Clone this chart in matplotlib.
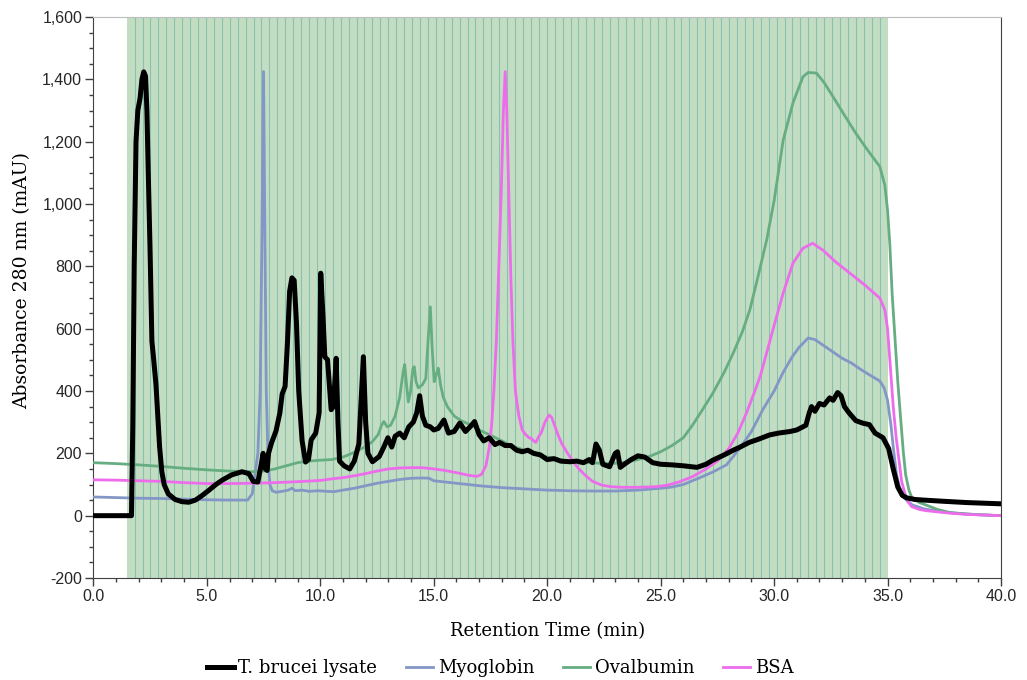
import numpy as np
import matplotlib
matplotlib.use("Agg")
import matplotlib.pyplot as plt
from matplotlib.ticker import MultipleLocator, FuncFormatter

# --- data (time in min, absorbance in mAU) ---
lysate_t = [0.0, 1.68, 1.74, 1.80, 1.88, 1.96, 2.06, 2.14, 2.22, 2.30, 2.36, 2.42, 2.50, 2.58,
            2.66, 2.76, 2.84, 2.92, 3.02, 3.12, 3.30, 3.60, 3.90, 4.20, 4.50, 4.80, 5.10, 5.40,
            5.70, 6.10, 6.55, 6.85, 7.05, 7.25, 7.40, 7.48, 7.58, 7.66, 7.72, 7.85, 8.05, 8.22,
            8.32, 8.45, 8.55, 8.65, 8.75, 8.85, 8.95, 9.05, 9.20, 9.35, 9.48, 9.60, 9.80, 9.95,
            10.02, 10.12, 10.20, 10.32, 10.40, 10.48, 10.58, 10.70, 10.78, 10.85, 11.05, 11.30,
            11.50, 11.70, 11.82, 11.90, 12.00, 12.10, 12.30, 12.60, 12.80, 12.98, 13.15, 13.30,
            13.50, 13.70, 13.90, 14.10, 14.25, 14.38, 14.50, 14.65, 14.85, 15.00, 15.20, 15.45,
            15.65, 15.90, 16.15, 16.40, 16.60, 16.80, 17.00, 17.20, 17.45, 17.70, 17.90, 18.15,
            18.40, 18.65, 18.90, 19.15, 19.40, 19.70, 20.00, 20.30, 20.60, 21.00, 21.30, 21.60,
            21.85, 22.00, 22.15, 22.30, 22.45, 22.75, 23.00, 23.10, 23.22, 23.40, 23.70, 24.00,
            24.30, 24.65, 25.00, 25.50, 26.00, 26.60, 27.00, 27.30, 27.80, 28.20, 28.50, 28.90,
            29.30, 29.80, 30.20, 30.70, 31.00, 31.40, 31.55, 31.65, 31.80, 32.00, 32.20, 32.45,
            32.60, 32.80, 32.95, 33.10, 33.30, 33.60, 33.90, 34.20, 34.45, 34.80, 35.05, 35.25,
            35.45, 35.65, 35.85, 36.20, 36.60, 37.50, 38.50, 40.00]
lysate_v = [0, 0, 300, 800, 1200, 1300, 1340, 1400, 1424, 1410, 1300, 1100, 850, 560,
            500, 420, 320, 220, 140, 100, 70, 52, 45, 43, 50, 65, 82, 100,
            115, 131, 141, 135, 110, 108, 165, 200, 150, 145, 200, 233, 272, 330,
            390, 415, 550, 720, 763, 755, 620, 400, 240, 172, 180, 243, 265, 330,
            778, 640, 510, 500, 420, 340, 350, 505, 300, 175, 160, 150,
            175, 230, 400, 510, 300, 200, 173, 190, 220, 250, 220, 255,
            265, 250, 285, 300, 330, 385, 320, 290, 285, 275, 280, 307,
            265, 270, 297, 270, 285, 302, 260, 240, 250, 228, 235, 225,
            225, 210, 205, 210, 200, 195, 180, 183, 175, 173, 175, 170,
            180, 170, 230, 210, 165, 157, 200, 205, 155, 165, 180, 192,
            188, 170, 165, 163, 160, 155, 165, 178, 195, 210, 220, 235,
            245, 259, 265, 270, 275, 290, 330, 350, 335, 360, 355, 378,
            370, 395, 385, 350, 330, 305, 297, 292, 265, 250, 215, 150,
            92, 65, 57, 52, 50, 46, 42, 38]

myo_t = [0.0, 1.0, 2.0, 3.0, 4.0, 5.0, 6.0, 6.8, 7.0, 7.1, 7.25, 7.35, 7.43, 7.5, 7.56, 7.62,
         7.7, 7.78, 7.88, 8.05, 8.3, 8.6, 8.75, 8.9, 9.2, 9.5, 9.9, 10.3, 10.6, 11.0, 11.5,
         12.0, 12.5, 13.0, 13.5, 14.0, 14.5, 14.8, 15.0, 15.5, 16.0, 17.0, 18.0, 19.0, 20.0,
         21.0, 22.0, 23.0, 24.0, 25.0, 25.5, 26.0, 26.7, 27.3, 27.9, 28.5, 29.0, 29.5, 30.0,
         30.4, 30.8, 31.1, 31.5, 31.8, 32.2, 32.6, 33.0, 33.4, 33.8, 34.2, 34.66, 34.85, 35.0,
         35.15, 35.25, 35.4, 35.55, 35.7, 35.9, 36.1, 36.6, 37.3, 38.0, 39.0, 40.0]
myo_v = [60, 58, 56, 55, 53, 51, 50, 50, 70, 120, 200, 400, 900, 1425, 900, 400,
         180, 100, 80, 75, 78, 82, 88, 80, 82, 78, 80, 78, 77, 82, 88,
         96, 104, 110, 116, 120, 121, 120, 112, 108, 104, 96, 90, 86, 82,
         80, 79, 79, 82, 88, 92, 100, 121, 140, 163, 217, 270, 340, 400,
         460, 510, 540, 570, 565, 545, 525, 505, 490, 470, 452, 432, 410, 370,
         290, 221, 130, 85, 60, 45, 34, 22, 13, 8, 3, 0]

ova_t = [0.0, 1.0, 2.0, 3.0, 4.0, 5.0, 6.0, 7.0, 7.5, 8.0, 8.5, 9.0, 9.5, 10.0, 10.5, 11.0,
         11.5, 12.0, 12.3, 12.55, 12.7, 12.8, 12.95, 13.1, 13.3, 13.5, 13.65, 13.72, 13.8,
         13.88, 13.98, 14.08, 14.14, 14.22, 14.32, 14.5, 14.65, 14.75, 14.85, 14.93, 15.02,
         15.12, 15.2, 15.3, 15.42, 15.6, 15.9, 16.2, 16.6, 17.0, 17.5, 18.0, 18.5, 19.0,
         19.5, 20.0, 20.5, 21.0, 21.5, 22.0, 22.5, 23.0, 23.5, 24.0, 24.5, 25.0, 25.5, 26.0,
         26.4, 26.8, 27.3, 27.8, 28.2, 28.6, 28.93, 29.3, 29.67, 30.0, 30.4, 30.83, 31.27,
         31.5, 31.87, 32.2, 32.6, 33.1, 33.6, 34.1, 34.66, 34.88, 35.0, 35.1, 35.2, 35.3,
         35.45, 35.6, 35.7, 35.8, 35.95, 36.06, 36.4, 36.7, 37.2, 37.75, 38.5, 40.0]
ova_v = [170, 167, 163, 158, 152, 147, 143, 141, 143, 150, 160, 170, 175, 178, 180, 188,
         203, 222, 238, 260, 290, 302, 285, 290, 320, 380, 460, 485, 420,
         365, 400, 470, 478, 430, 410, 420, 440, 560, 670, 540, 430,
         455, 473, 420, 380, 350, 320, 305, 292, 275, 258, 240, 222, 210,
         198, 188, 180, 175, 171, 169, 168, 168, 172, 180, 190, 205, 225, 250,
         290, 335, 393, 460, 522, 590, 660, 770, 884, 1010, 1205, 1324, 1408,
         1422, 1420, 1390, 1344, 1285, 1227, 1175, 1120, 1060, 980, 870, 715, 600,
         430, 290, 200, 130, 80, 60, 42, 34, 20, 10, 5, 0]

bsa_t = [0.0, 1.0, 2.0, 3.0, 4.0, 5.0, 6.0, 7.0, 8.0, 9.0, 10.0, 10.5, 11.0, 11.5, 12.0,
         12.5, 13.0, 13.5, 14.0, 14.5, 15.0, 15.5, 16.0, 16.5, 16.9, 17.1, 17.3, 17.45, 17.55,
         17.65, 17.76, 17.87, 17.98, 18.07, 18.15, 18.22, 18.32, 18.4, 18.49, 18.6, 18.75,
         18.9, 19.05, 19.2, 19.3, 19.4, 19.5, 19.6, 19.75, 19.9, 20.08, 20.2, 20.35, 20.5,
         20.65, 20.9, 21.15, 21.4, 21.7, 22.0, 22.4, 22.8, 23.3, 24.0, 24.8, 25.3, 25.8, 26.4,
         27.0, 27.5, 28.0, 28.4, 28.78, 29.1, 29.4, 29.67, 30.0, 30.4, 30.83, 31.27, 31.7,
         32.15, 32.7, 33.34, 34.0, 34.66, 34.88, 35.0, 35.12, 35.25, 35.38, 35.5, 35.62,
         35.77, 35.9, 36.06, 36.4, 36.7, 37.75, 38.5, 40.0]
bsa_v = [115, 114, 112, 110, 106, 103, 103, 104, 106, 109, 113, 118, 122, 128, 135,
         143, 150, 153, 154, 154, 150, 145, 138, 130, 126, 132, 160, 220, 290,
         400, 560, 800, 1050, 1300, 1425, 1300, 1000, 760, 560, 400, 320,
         275, 260, 250, 248, 240, 235, 250, 268, 300, 323, 315, 285, 255,
         230, 200, 173, 150, 128, 110, 98, 93, 91, 91, 93, 98, 108, 125,
         150, 175, 215, 265, 329, 390, 450, 522, 610, 714, 810, 858, 874,
         852, 815, 778, 740, 698, 660, 600, 480, 350, 250, 180, 110,
         70, 45, 29, 20, 16, 8, 4, 0]

series_names = ["T. brucei lysate", "Myoglobin", "Ovalbumin", "BSA"]

# fraction collection window
fraction_start = 1.47
fraction_end = 35.0
n_fractions = 96

# --- figure ---
fig = plt.figure(figsize=(10.27, 6.8), dpi=100)
ax = fig.add_axes([0.0909, 0.15, 0.8838, 0.825])

# fractions: shaded band with thin separators
ax.axvspan(fraction_start, fraction_end, facecolor="#c3ddc3", edgecolor="none", zorder=0)
edges = np.linspace(fraction_start, fraction_end, n_fractions + 1)
ax.vlines(edges[1:-1], -200, 1600, colors="#86c2ae", lw=0.8, zorder=1)

ax.plot(lysate_t, lysate_v, color="black", lw=3.6, label=series_names[0], zorder=5,
        solid_joinstyle="round")
ax.plot(myo_t, myo_v, color="#8396c6", lw=2.0, label=series_names[1], zorder=3)
ax.plot(ova_t, ova_v, color="#66ad82", lw=2.0, label=series_names[2], zorder=3)
ax.plot(bsa_t, bsa_v, color="#ec6cec", lw=2.0, label=series_names[3], zorder=4)

ax.set_xlim(0, 40)
ax.set_ylim(-200, 1600)
ax.xaxis.set_major_locator(MultipleLocator(5))
ax.xaxis.set_minor_locator(MultipleLocator(1))
ax.yaxis.set_major_locator(MultipleLocator(200))
ax.yaxis.set_minor_locator(MultipleLocator(50))
ax.xaxis.set_major_formatter(FuncFormatter(lambda v, p: f"{v:.1f}"))
ax.yaxis.set_major_formatter(FuncFormatter(lambda v, p: f"{v:,.0f}"))

for lab in ax.get_xticklabels() + ax.get_yticklabels():
    lab.set_fontfamily("Liberation Sans")
ax.tick_params(axis="both", which="major", direction="out", length=6, width=1,
               color="#404040", labelsize=11.5, labelcolor="#262626", pad=2)
ax.tick_params(axis="both", which="minor", direction="out", length=3, width=1,
               color="#404040")

for side in ["left", "bottom", "right"]:
    ax.spines[side].set_color("#404040")
ax.spines["top"].set_color("#bcbcbc")

ax.set_xlabel("Retention Time (min)", fontfamily="DejaVu Serif", fontsize=13,
              labelpad=13)
ax.set_ylabel("Absorbance 280 nm (mAU)", fontfamily="DejaVu Serif", fontsize=13.5)
ax.yaxis.set_label_coords(-0.069, 0.53)

fig.legend(loc="center", bbox_to_anchor=(500 / 1027, 1 - 668 / 680), ncol=4,
           frameon=False, prop={"family": "DejaVu Serif", "size": 13},
           handlelength=1.5, handletextpad=0.25, columnspacing=1.6)

fig.savefig("out.png", dpi=100)
